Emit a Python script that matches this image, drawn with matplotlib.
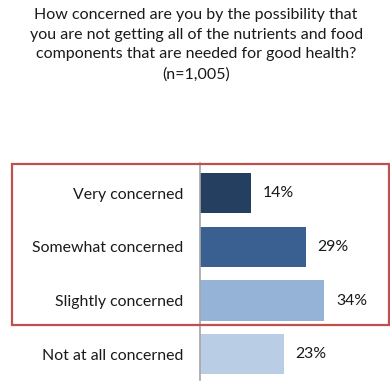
import matplotlib
matplotlib.use("Agg")
import matplotlib.pyplot as plt
from matplotlib.patches import Rectangle

categories = ["Very concerned", "Somewhat concerned", "Slightly concerned", "Not at all concerned"]
values = [14, 29, 34, 23]
colors = ["#243f60", "#3a6091", "#95b3d7", "#b9cde5"]
title_lines = ["How concerned are you by the possibility that",
               "you are not getting all of the nutrients and food",
               "components that are needed for good health?"]
subtitle = "(n=1,005)"

plt.rcParams['font.family'] = ['Lato', 'DejaVu Sans']

fig = plt.figure(figsize=(3.9, 3.88), dpi=100)
ax = fig.add_axes([200/390, 1-380/388, 190/390, (380-163)/388])
ypos = list(range(len(categories)))
ax.barh(ypos, values, height=0.745, color=colors)
ax.set_xlim(0, 52)
ax.set_ylim(3.48, -0.56)
for s in ["top", "right", "bottom"]:
    ax.spines[s].set_visible(False)
ax.spines["left"].set_color("#a6a6a6")
ax.spines["left"].set_linewidth(1.2)
ax.set_xticks([])
ax.set_yticks(ypos)
ax.set_yticklabels(categories, fontsize=11.4, color="#1a1a1a")
ax.tick_params(axis="y", length=0, pad=12.2)
for y, v in zip(ypos, values):
    ax.text(v + 3.2, y, f"{v}%", va="center", ha="left", fontsize=11.4, color="#1a1a1a")

for i, line in enumerate(title_lines):
    fig.text(0.503, 1 - (15 + 19.5*i)/388, line, ha="center", va="center", fontsize=11.5, color="#1a1a1a")
fig.text(0.503, 1 - 75/388, subtitle, ha="center", va="center", fontsize=11.5, color="#1a1a1a")

fig.patches.append(Rectangle((12/390, 1-325/388), (389-12)/390, (325-164)/388,
                             transform=fig.transFigure, fill=False,
                             edgecolor="#c0504d", linewidth=1.6))

fig.savefig("out.png", dpi=100)
